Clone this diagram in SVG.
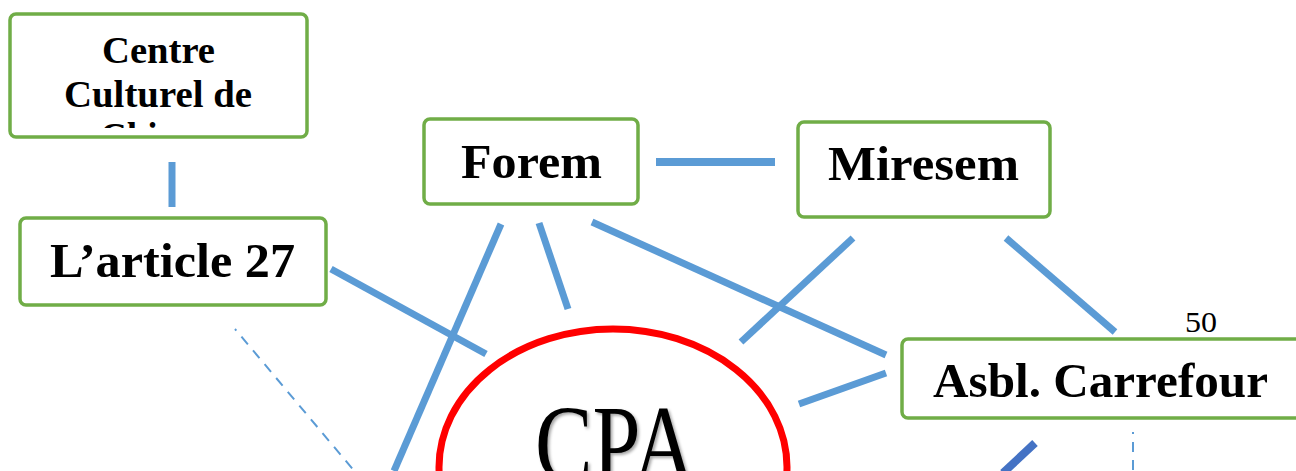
<svg xmlns="http://www.w3.org/2000/svg" width="1296" height="471" viewBox="0 0 1296 471">
<defs>
<style>
.box{fill:#fff;stroke:#70AD47;stroke-width:3.5}
.lbl{font-family:"Liberation Serif","Times New Roman",serif;font-weight:bold;fill:#000}
.ln{stroke:#5B9BD5;stroke-width:7;fill:none}
.dk{stroke:#4472C4;stroke-width:8;fill:none}
.ds{stroke:#5B9BD5;stroke-width:2;fill:none;stroke-dasharray:10 8}
</style>
<clipPath id="clipC"><rect x="10" y="14" width="298" height="114"/></clipPath>
<filter id="sh" x="-10%" y="-10%" width="130%" height="130%">
<feDropShadow dx="2" dy="2" stdDeviation="1.5" flood-color="#000" flood-opacity="0.35"/>
</filter>
</defs>
<rect width="1296" height="471" fill="#fff"/>
<g id="connectors">
<line class="ln" x1="172" y1="162" x2="172" y2="207"/>
<line class="ln" x1="656" y1="162" x2="775" y2="162" style="stroke-width:8"/>
<line class="ln" x1="331" y1="269" x2="486" y2="354"/>
<line class="ln" x1="501" y1="224" x2="394" y2="471"/>
<line class="ln" x1="539" y1="223" x2="568" y2="309"/>
<line class="ln" x1="592" y1="222" x2="886" y2="355"/>
<line class="ln" x1="853" y1="238" x2="741" y2="342"/>
<line class="ln" x1="1006" y1="238" x2="1115" y2="332"/>
<line class="ln" x1="799" y1="404" x2="886" y2="373"/>
<line class="dk" x1="1035" y1="443" x2="1003" y2="473"/>
<line class="ds" x1="235" y1="329" x2="356" y2="473" style="stroke-dashoffset:8"/>
<line class="ds" x1="1133" y1="432" x2="1133" y2="471" style="stroke-dashoffset:8"/>
</g>
<g id="centre">
<rect class="box" x="10" y="14" width="297" height="123" rx="6"/>
<text class="lbl" x="102" y="63" font-size="37" textLength="113" lengthAdjust="spacingAndGlyphs">Centre</text>
<text class="lbl" x="64" y="107" font-size="37" textLength="188" lengthAdjust="spacingAndGlyphs">Culturel de</text>
<text class="lbl" x="100" y="149" font-size="37" clip-path="url(#clipC)">Chimay</text>
</g>
<g id="article27">
<rect class="box" x="20" y="218" width="306" height="87" rx="6"/>
<text class="lbl" x="50" y="277" font-size="48" textLength="245" lengthAdjust="spacingAndGlyphs">L’article 27</text>
</g>
<g id="forem">
<rect class="box" x="424" y="119" width="214" height="85" rx="6"/>
<text class="lbl" x="461" y="178" font-size="48" textLength="141" lengthAdjust="spacingAndGlyphs">Forem</text>
</g>
<g id="miresem">
<rect class="box" x="798" y="122" width="252" height="95" rx="6"/>
<text class="lbl" x="828" y="180" font-size="48" textLength="191" lengthAdjust="spacingAndGlyphs">Miresem</text>
</g>
<g id="asbl">
<rect class="box" x="902" y="339" width="420" height="79" rx="6"/>
<text class="lbl" x="933" y="397" font-size="49" textLength="335" lengthAdjust="spacingAndGlyphs">Asbl. Carrefour</text>
</g>
<g id="label50">
<text x="1185" y="332" font-family="Liberation Serif, serif" font-size="29" textLength="32" lengthAdjust="spacingAndGlyphs" fill="#000">50</text>
</g>
<g id="cpa">
<ellipse cx="613" cy="467" rx="174" ry="138" fill="#fff" stroke="#FF0000" stroke-width="7"/>
<text x="535" y="481" font-family="Liberation Serif, serif" font-size="110" textLength="160" lengthAdjust="spacingAndGlyphs" fill="#000" filter="url(#sh)">CPA</text>
</g>
</svg>
